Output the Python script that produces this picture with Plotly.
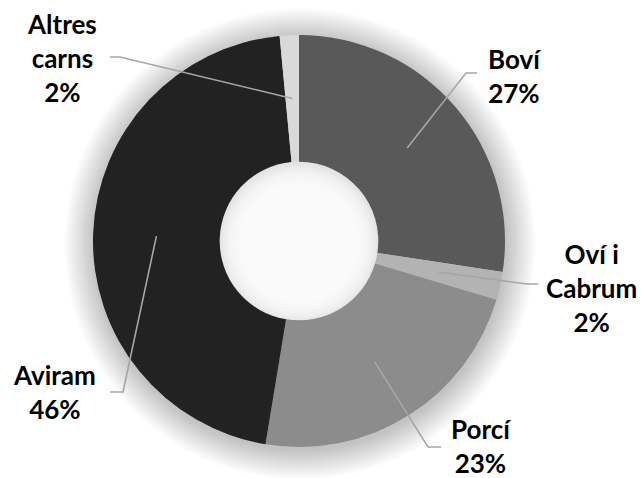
import math
import plotly.graph_objects as go

# ---- data ----
categories = ["Boví", "Oví i<br>Cabrum", "Porcí", "Aviram", "Altres<br>carns"]
values = [27.4, 2.2, 23.0, 45.9, 1.5]
colors = ["#595959", "#b3b3b3", "#8c8c8c", "#222222", "#d9d9d9"]

# ---- layout config (pixels) ----
W, H = 643, 478
CX, CY, R = 299, 241, 206
HOLE = 0.385
# label centre and leader elbow/end for each category
label_pos = [(514, 76), (591, 288), (481, 446), (55, 392), (62, 58)]
leader_elbow = [(466, 73), (527, 284), (428, 447), (123, 392), (120, 57)]
leader_end = [(477, 73), (538, 284), (441, 447), (110, 392), (110, 57)]


def px(x):
    return x / W


def py(y):
    return 1 - y / H


def circle(cx, cy, r, fill, layer="below"):
    return dict(type="circle", xref="paper", yref="paper",
                x0=px(cx - r), x1=px(cx + r), y0=py(cy + r), y1=py(cy - r),
                fillcolor=fill, line=dict(width=0), layer=layer)


fig = go.Figure()
fig.add_trace(go.Pie(
    labels=categories, values=values, hole=HOLE, sort=False,
    direction="clockwise", rotation=0,
    marker=dict(colors=colors, line=dict(width=0)),
    textinfo="none", hoverinfo="label+percent", showlegend=False,
    domain=dict(x=[px(CX - R), px(CX + R)], y=[py(CY + R), py(CY - R)]),
))

shapes = []
# soft outer shadow
N = 30
for k in range(N, 0, -1):
    shapes.append(circle(CX + 1, CY + 3, R + k, "rgba(0,0,0,0.0065)"))
# inner hole shading
r_in = R * HOLE
shapes.append(circle(CX, CY, r_in + 2, "#e4e4e4"))
M = 14
for k in range(1, M + 1):
    shapes.append(circle(CX, CY + 2, r_in - k * 1.6, "rgba(255,255,255,0.16)"))

# leader lines and labels
total = sum(values)
annotations = []
cum = 0.0
rmid = R * (1 + HOLE) / 2
for i, (cat, v) in enumerate(zip(categories, values)):
    mid = (cum + v / 2) / total * 2 * math.pi
    cum += v
    sx = CX + rmid * math.sin(mid)
    sy = CY - rmid * math.cos(mid)
    ex, ey = leader_elbow[i]
    fx, fy = leader_end[i]
    shapes.append(dict(
        type="path", xref="paper", yref="paper", layer="above",
        path=f"M {px(sx)},{py(sy)} L {px(ex)},{py(ey)} L {px(fx)},{py(fy)}",
        line=dict(color="#a6a6a6", width=1.6)))
    pct = int(v / total * 100 + 0.5)
    lx, ly = label_pos[i]
    annotations.append(dict(
        x=px(lx), y=py(ly), xref="paper", yref="paper",
        text=f"{cat}<br>{pct}%", showarrow=False, align="center",
        xanchor="center", yanchor="middle",
        font=dict(family="Lato", size=26, color="#000000", weight="bold")))

fig.update_layout(
    width=W, height=H, margin=dict(l=0, r=0, t=0, b=0),
    paper_bgcolor="white", plot_bgcolor="white",
    shapes=shapes, annotations=annotations,
)
fig.write_html("out.html", config={"displayModeBar": False},
               post_script="document.body.style.margin='0';document.body.style.overflow='hidden';")
